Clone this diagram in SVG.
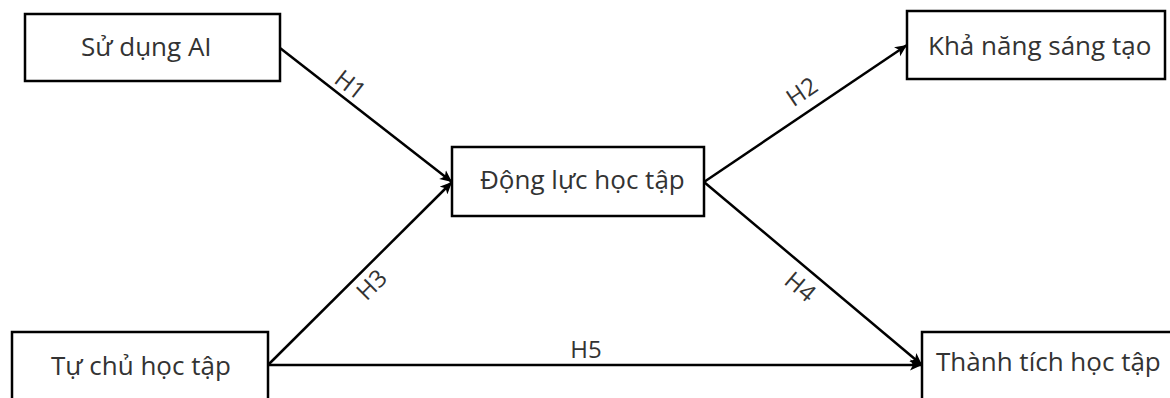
<svg xmlns="http://www.w3.org/2000/svg" width="1170" height="398" viewBox="0 0 1170 398">
<style>
.box{fill:#fff;stroke:#000;stroke-width:2.5}
.t{font-family:"Open Sans","Noto Sans","Liberation Sans",sans-serif;font-size:26px;fill:#333}
.lbl{font-family:"Open Sans","Noto Sans","Liberation Sans",sans-serif;font-size:24px;fill:#333;text-anchor:middle}
.c{stroke:#000;stroke-width:2.5;fill:none}
</style>
<defs>
<marker id="arr" markerUnits="userSpaceOnUse" markerWidth="14" markerHeight="12" refX="12" refY="6" orient="auto">
<path d="M0,0.5 L12,6 L0,11.5 L3,6 z" fill="#000"/>
</marker>
</defs>
<rect width="1170" height="398" fill="#fff"/>
<g id="connectors">
<line class="c" x1="280" y1="48" x2="452" y2="182" marker-end="url(#arr)"/>
<line class="c" x1="268" y1="365" x2="452" y2="182" marker-end="url(#arr)"/>
<line class="c" x1="704" y1="182" x2="907" y2="45" marker-end="url(#arr)"/>
<line class="c" x1="704" y1="182" x2="922" y2="365" marker-end="url(#arr)"/>
<line class="c" x1="268" y1="365" x2="922" y2="365" marker-end="url(#arr)"/>
<text class="lbl" transform="translate(350,85) rotate(38)" y="8">H1</text>
<text class="lbl" transform="translate(802,92) rotate(-34)" y="8">H2</text>
<text class="lbl" transform="translate(372,285) rotate(-45)" y="8">H3</text>
<text class="lbl" transform="translate(800,287) rotate(40)" y="8">H4</text>
<text class="lbl" x="586" y="358">H5</text>
</g>
<g id="n1"><rect class="box" x="25" y="14" width="255" height="67"/><text class="t" x="81" y="56">Sử dụng AI</text></g>
<g id="n2"><rect class="box" x="907" y="11" width="258" height="68"/><text class="t" x="928" y="55">Khả năng sáng tạo</text></g>
<g id="n3"><rect class="box" x="452" y="147" width="252" height="69"/><text class="t" x="480" y="189">Động lực học tập</text></g>
<g id="n4"><rect class="box" x="12" y="332" width="256" height="70"/><text class="t" x="51" y="375">Tự chủ học tập</text></g>
<g id="n5"><rect class="box" x="922" y="332" width="260" height="70"/><text class="t" x="936" y="371">Thành tích học tập</text></g>
</svg>
